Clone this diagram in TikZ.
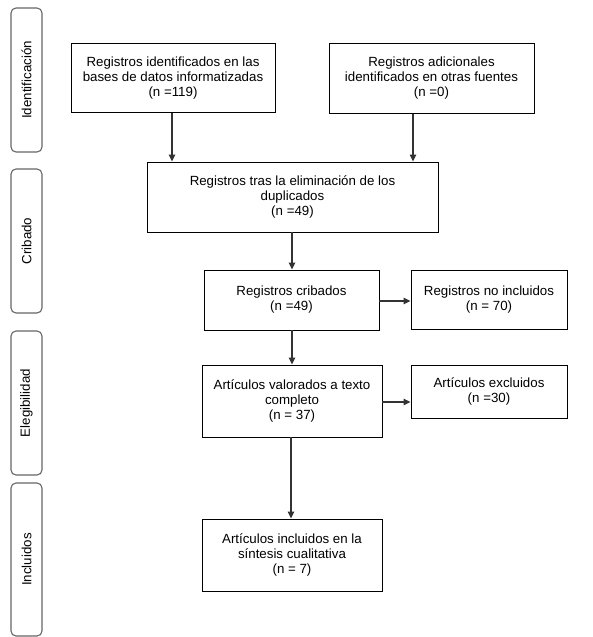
\documentclass[tikz,border=0pt]{standalone}
\usepackage{fontspec}
\setmainfont{Liberation Sans}
\usetikzlibrary{arrows.meta}
\begin{document}
\begin{tikzpicture}[x=1pt,y=-1pt,
  box/.style={draw=black, line width=0.9pt, fill=white, align=center, inner sep=0pt,
    font=\fontsize{13.3}{15}\selectfont},
  side/.style={draw=black!60, line width=1.1pt, rounded corners=5pt, minimum width=31pt,
    inner sep=0pt},
  sidetext/.style={rotate=90, font=\fontsize{13.3}{15}\selectfont},
  arr/.style={draw=black!80, line width=1.2pt, -{Triangle[width=6.5pt,length=7pt]}}]
\useasboundingbox (0,0) rectangle (593,637);
% side phase labels
\node[side, minimum height=144pt] (sid) at (26.5,80) {};
\node[sidetext] (tid) at (sid.center) {Identificación};
\node[side, minimum height=144pt] (scr) at (26.5,241) {};
\node[sidetext] (tcr) at (scr.center) {Cribado};
\node[side, minimum height=144pt] (sel) at (26.5,403) {};
\node[sidetext] (tel) at (sel.center) {Elegibilidad};
\node[side, minimum height=153pt] (sin) at (26.5,559.5) {};
\node[sidetext] (tin) at (sin.center) {Incluidos};
% main boxes
\node[box, minimum width=204pt, minimum height=69pt] (b1) at (173,78)
  {Registros identificados en las\\bases de datos informatizadas\\(n =119)};
\node[box, minimum width=205pt, minimum height=70pt] (b2) at (431.5,78.5)
  {Registros adicionales\\identificados en otras fuentes\\(n =0)};
\node[box, minimum width=291pt, minimum height=70pt] (b3) at (292.5,197)
  {Registros tras la eliminación de los\\duplicados\\(n =49)};
\node[box, minimum width=175pt, minimum height=60pt] (b4) at (291.5,300)
  {Registros cribados\\(n =49)};
\node[box, minimum width=156pt, minimum height=59pt] (b5) at (489,299.5)
  {Registros no incluidos\\(n = 70)};
\node[box, minimum width=180pt, minimum height=72pt] (b6) at (292,401)
  {Artículos valorados a texto\\completo\\(n = 37)};
\node[box, minimum width=156pt, minimum height=53pt] (b7) at (489,391.5)
  {Artículos excluidos\\(n =30)};
\node[box, minimum width=180pt, minimum height=72pt] (b8) at (292,555)
  {Artículos incluidos en la\\síntesis cualitativa\\(n = 7)};
% connectors
\draw[arr] (b1.south -| 172,0) -- (b3.north -| 172,0);
\draw[arr] (b2.south -| 413,0) -- (b3.north -| 413,0);
\draw[arr] (b3.south -| 292,0) -- (b4.north -| 292,0);
\draw[arr] (b4.south -| 292,0) -- (b6.north -| 292,0);
\draw[arr] (b6.south -| 291,0) -- (b8.north -| 291,0);
\draw[arr] (b4.east |- 0,301) -- (b5.west |- 0,301);
\draw[arr] (b6.east |- 0,402) -- (b7.west |- 0,402);
\end{tikzpicture}
\end{document}
